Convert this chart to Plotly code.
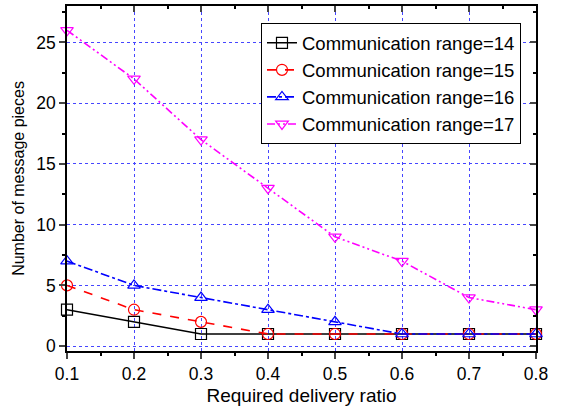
import plotly.graph_objects as go

x = [0.1, 0.2, 0.3, 0.4, 0.5, 0.6, 0.7, 0.8]
r14 = [3, 2, 1, 1, 1, 1, 1, 1]
r15 = [5, 3, 2, 1, 1, 1, 1, 1]
r16 = [7, 5, 4, 3, 2, 1, 1, 1]
r17 = [26, 22, 17, 13, 9, 7, 4, 3]
names = ["Communication range=14", "Communication range=15",
         "Communication range=16", "Communication range=17"]

series = [
    (r14, "black", "solid", "square-open"),
    (r15, "red", "dash", "circle-open"),
    (r16, "blue", "dashdot", "triangle-up-open"),
    (r17, "magenta", "8px,3px,2px,3px,2px,3px", "triangle-down-open"),
]

fig = go.Figure()
for (ys, col, dash, sym), nm in zip(series, names):
    fig.add_trace(go.Scatter(
        x=x, y=ys, name=nm, mode="lines+markers",
        line=dict(color=col, width=1.6, dash=dash),
        marker=dict(symbol=sym, size=11, color=col, line=dict(width=1.2, color=col)),
        cliponaxis=False,
    ))

font = "Liberation Sans, Arial, sans-serif"
grid = dict(showgrid=True, gridcolor="#4646ff", griddash="dot", gridwidth=1)
fig.update_layout(
    width=561, height=408,
    margin=dict(l=67, r=25, t=4, b=57),
    paper_bgcolor="white", plot_bgcolor="white",
    font=dict(family=font, size=17.5, color="black"),
    showlegend=True,
    legend=dict(x=0.968, y=0.95, xanchor="right", yanchor="top",
                bordercolor="black", borderwidth=1, bgcolor="white",
                font=dict(size=18.5), tracegroupgap=0, itemwidth=30),
    xaxis=dict(range=[0.1, 0.8], dtick=0.1, tick0=0.1, tickformat=".1f",
               ticks="outside", ticklen=6, tickwidth=1.5, linecolor="black", linewidth=1.5,
               mirror=True, zeroline=False,
               minor=dict(ticks="outside", ticklen=3, dtick=0.05, tick0=0.1, tickcolor="black", showgrid=False),
               title=dict(text="Required delivery ratio", font=dict(size=19), standoff=6),
               **grid),
    yaxis=dict(range=[-0.4, 28], dtick=5, tick0=0,
               ticks="outside", ticklen=6, tickwidth=1.5, linecolor="black", linewidth=1.5,
               mirror=True, zeroline=False,
               minor=dict(ticks="outside", ticklen=3, dtick=2.5, tick0=0, tickcolor="black", showgrid=False),
               title=dict(text="Number of message pieces", font=dict(size=16), standoff=8),
               **grid),
    xaxis2=dict(range=[0.1, 0.8], overlaying="x", side="top", dtick=0.1, tick0=0.1,
                ticks="inside", ticklen=6, tickwidth=1.5, showticklabels=False, showgrid=False,
                zeroline=False, showline=False,
                minor=dict(ticks="inside", ticklen=3, dtick=0.05, tick0=0.1, tickcolor="black")),
    yaxis2=dict(range=[-0.4, 28], overlaying="y", side="right", dtick=5, tick0=0,
                ticks="inside", ticklen=6, tickwidth=1.5, showticklabels=False, showgrid=False,
                zeroline=False, showline=False,
                minor=dict(ticks="inside", ticklen=3, dtick=2.5, tick0=0, tickcolor="black")),
)
# invisible trace to activate the secondary axes
fig.add_trace(go.Scatter(x=[x[0]], y=[r14[0]], xaxis="x2", yaxis="y2", mode="markers",
                         marker=dict(opacity=0), showlegend=False, hoverinfo="skip"))

fig.write_html("out.html")
